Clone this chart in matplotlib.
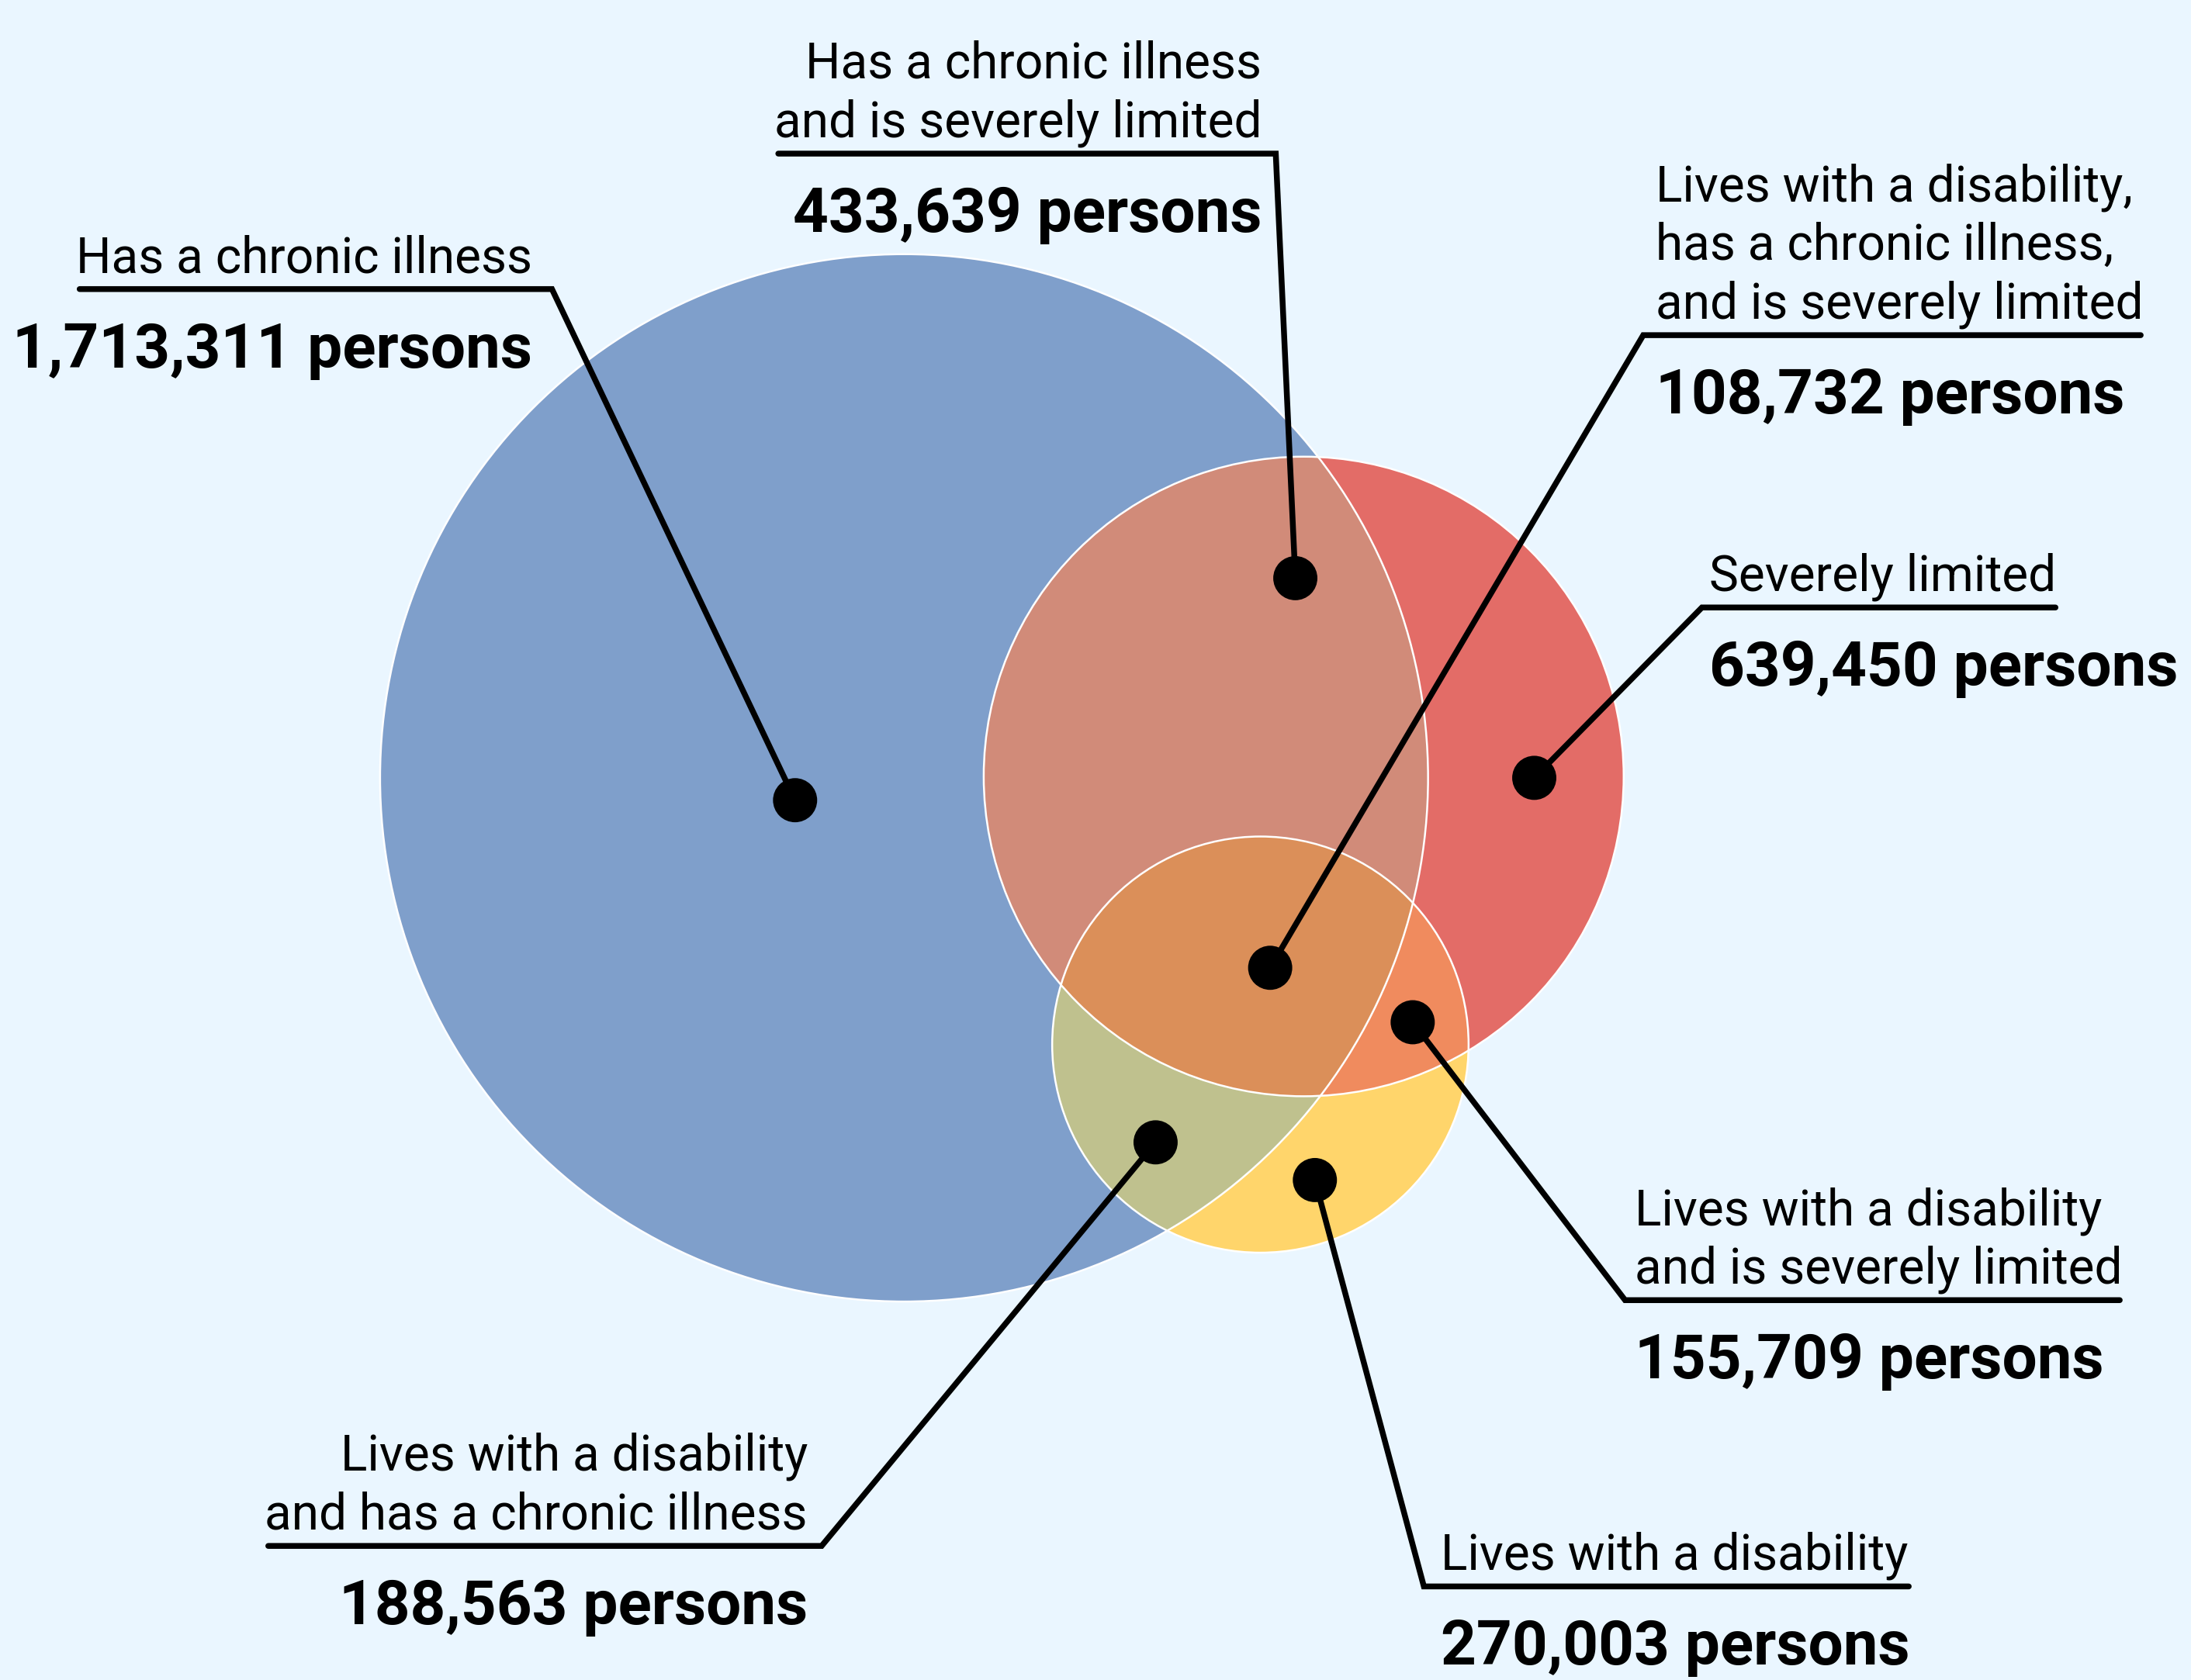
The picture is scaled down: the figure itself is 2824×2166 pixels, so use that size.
import numpy as np
import matplotlib.pyplot as plt
from matplotlib.patches import Circle, Polygon

# region labels and counts
region_names = [
    "Has a chronic illness",
    "Has a chronic illness\nand is severely limited",
    "Lives with a disability,\nhas a chronic illness,\nand is severely limited",
    "Severely limited",
    "Lives with a disability\nand is severely limited",
    "Lives with a disability",
    "Lives with a disability\nand has a chronic illness",
]
persons = [1713311, 433639, 108732, 639450, 155709, 270003, 188563]

# layout (pixel space of the 1568x1203 canvas)
circles = {
    "chronic": ((647, 557), 375),
    "limited": ((933, 556), 229),
    "disability": ((902, 748), 149),
}
dots = [(569, 573), (927, 414), (909, 693), (1098, 557), (1011, 732), (941, 845), (827, 818)]
# underline x0, x1, y ; side where the leader attaches
underlines = [(57, 395, 207), (557, 913, 110), (1176, 1532, 240), (1218, 1471, 435),
              (1163, 1517, 931), (1019, 1366, 1136), (192, 588, 1107)]
attach = ["right", "right", "left", "left", "left", "left", "right"]
text_x = [381, 903, 1185, 1223, 1170, 1031, 578]

bg = "#EAF6FF"
col = {
    "chronic": "#7F9FCB",
    "limited": "#E36C67",
    "disability": "#FFD56B",
    "chronic+limited": "#D18B79",
    "chronic+disability": "#BFC18E",
    "limited+disability": "#F08B5E",
    "all": "#DB8F59",
}


def inter_poly(keys, n=1440):
    pts = []
    for k in keys:
        (cx, cy), r = circles[k]
        a = np.linspace(0, 2 * np.pi, n, endpoint=False)
        p = np.column_stack([cx + r * np.cos(a), cy + r * np.sin(a)])
        ok = np.ones(len(p), bool)
        for o in keys:
            if o == k:
                continue
            (ox, oy), orr = circles[o]
            ok &= (p[:, 0] - ox) ** 2 + (p[:, 1] - oy) ** 2 <= orr ** 2
        pts.append(p[ok])
    pts = np.vstack(pts)
    m = pts.mean(axis=0)
    ang = np.arctan2(pts[:, 1] - m[1], pts[:, 0] - m[0])
    return pts[np.argsort(ang)]


fig = plt.figure(figsize=(14.12, 10.83), dpi=200, facecolor=bg)
ax = fig.add_axes([0, 0, 1, 1])
ax.set_xlim(0, 1568)
ax.set_ylim(1203, 0)
ax.axis("off")
ax.set_facecolor(bg)

for k in ["chronic", "limited", "disability"]:
    c, r = circles[k]
    ax.add_patch(Circle(c, r, facecolor=col[k], edgecolor="none", zorder=1))

for keys, name in [(["chronic", "limited"], "chronic+limited"),
                   (["chronic", "disability"], "chronic+disability"),
                   (["limited", "disability"], "limited+disability"),
                   (["chronic", "limited", "disability"], "all")]:
    ax.add_patch(Polygon(inter_poly(keys), closed=True, facecolor=col[name],
                         edgecolor="none", zorder=2))

for k in ["chronic", "limited", "disability"]:
    c, r = circles[k]
    ax.add_patch(Circle(c, r, facecolor="none", edgecolor="white", lw=0.9, zorder=3))

lw = 2.7
for i, name in enumerate(region_names):
    x0, x1, uy = underlines[i]
    dx, dy = dots[i]
    if attach[i] == "right":
        xs, ys = [x0, x1, dx], [uy, uy, dy]
        ha = "right"
    else:
        xs, ys = [x1, x0, dx], [uy, uy, dy]
        ha = "left"
    ax.plot(xs, ys, color="black", lw=lw, solid_capstyle="round",
            solid_joinstyle="miter", zorder=4)
    ax.add_patch(Circle((dx, dy), 15.8, facecolor="black", edgecolor="none", zorder=5))

    lines = name.split("\n")
    n = len(lines)
    for j, ln in enumerate(lines):
        by = uy - 12 - 42 * (n - 1 - j)
        ax.text(text_x[i], by, ln, ha=ha, va="baseline", fontsize=23,
                family="Roboto", color="black", zorder=6)
    ax.text(text_x[i], uy + 56, f"{persons[i]:,} persons", ha=ha, va="baseline",
            fontsize=28.8, family="Roboto", fontweight="bold", color="black", zorder=6)

fig.savefig("out.png", dpi=200, facecolor=bg)
